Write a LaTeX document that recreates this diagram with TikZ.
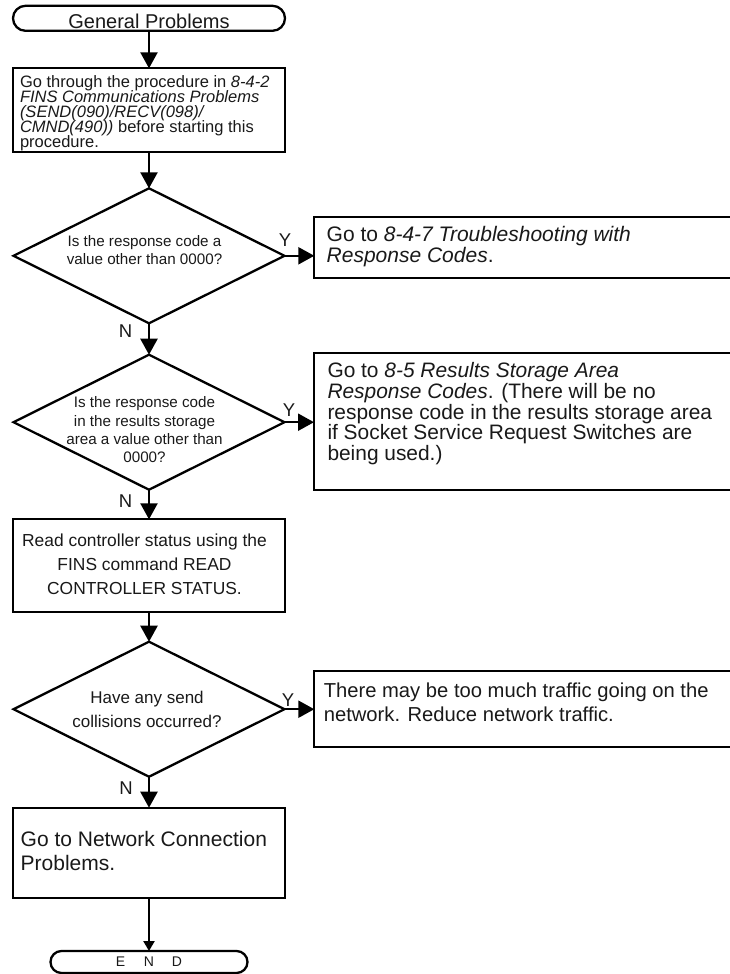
\documentclass[tikz,border=0pt]{standalone}
\usepackage{fontspec}
\setmainfont{Liberation Sans}
\usetikzlibrary{arrows.meta,shapes.geometric}
\begin{document}
\begin{tikzpicture}[x=1pt,y=1pt,
  box/.style={draw, line width=2.3pt, inner ysep=0pt, outer sep=0pt, anchor=north west, text=black!90},
  dia/.style={draw, diamond, line width=2.3pt, minimum width=271pt, minimum height=135pt, inner sep=0pt, outer sep=0pt, text=black!90},
  term/.style={draw, rectangle, line width=2.3pt, inner sep=0pt, outer sep=0pt, text=black!90},
  arr/.style={line width=2.3pt, -{Triangle[length=16pt,width=17pt]}},
  arrsmall/.style={line width=2.3pt, -{Triangle[length=10pt,width=11pt]}},
  yn/.style={inner sep=0pt, text=black!90, font=\fontsize{18.5}{20}\selectfont}
]
\useasboundingbox (0,0) rectangle (730,-974);

% terminals
\node[term, minimum width=272pt, minimum height=25pt, rounded corners=12.5pt] (start) at (149,-18.3)
  {\smash{\raisebox{-10.3pt}{\fontsize{20}{22}\selectfont General Problems}}};
\node[term, minimum width=197pt, minimum height=22pt, rounded corners=11pt] (end) at (149,-962)
  {\smash{\raisebox{-4.8pt}{\fontsize{14}{16}\selectfont E\hspace{18.5pt}N\hspace{18pt}D}}};

% left boxes
\node[box, inner xsep=7pt] (b1) at (13,-68.3)
  {\parbox[c][83.4pt][t]{258pt}{\fontsize{16.5}{14.8}\selectfont\lineskiplimit=-50pt\raggedright
   \rule{0pt}{19.5pt}Go through the procedure in \textit{8-4-2}\\
   \textit{FINS Communications Problems}\\
   \textit{(SEND(090)/RECV(098)/}\\
   \textit{CMND(490))} before starting this\\
   procedure.}};

\node[box, inner xsep=7pt] (b3) at (13,-519.3)
  {\parbox[c][92.4pt][t]{249pt}{\fontsize{17.4}{23.7}\selectfont\lineskiplimit=-50pt\centering
   \rule{0pt}{27.4pt}Read controller status using the\\
   FINS command READ\\
   CONTROLLER STATUS.}\hspace*{9pt}};

\node[box, inner xsep=7.7pt] (b4) at (13,-807.7)
  {\parbox[c][90.6pt][t]{256.6pt}{\fontsize{21}{24.7}\selectfont\lineskiplimit=-50pt\raggedright
   \rule{0pt}{38.3pt}Go to Network Connection\\
   Problems.}};

% right boxes
\node[box, inner xsep=12.4pt] (rb1) at (314.3,-217.3)
  {\parbox[c][61pt][t]{415.2pt}{\fontsize{21}{21}\selectfont\lineskiplimit=-50pt\raggedright
   \rule{0pt}{24.4pt}Go to \textit{8-4-7 Troubleshooting with}\\
   \textit{Response Codes}.}};

\node[box, inner xsep=13.5pt] (rb2) at (314,-353.3)
  {\parbox[c][136.7pt][t]{413pt}{\fontsize{20.9}{20.75}\selectfont\lineskiplimit=-50pt\raggedright
   \rule{0pt}{24.4pt}Go to \textit{8-5 Results Storage Area}\\
   \textit{Response Codes}. (There will be no\\
   response code in the results storage area\\
   if Socket Service Request Switches are\\
   being used.)}};

\node[box, inner xsep=9.5pt] (rb3) at (314.3,-671)
  {\parbox[c][76.3pt][t]{421pt}{\fontsize{20.2}{24.3}\selectfont\lineskiplimit=-50pt\raggedright
   \rule{0pt}{26.3pt}There may be too much traffic going on the\\
   network. Reduce network traffic.}};

% decisions
\node[dia] (d1) at (149,-255.8)
  {\smash{\makebox[0pt]{\hspace*{-9pt}\fontsize{15.2}{18}\selectfont\begin{tabular}[c]{@{}c@{}}Is the response code a\\value other than 0000?\end{tabular}}}};
\node[dia] (d2) at (149,-422.2)
  {\smash{\makebox[0pt]{\hspace*{-9pt}\raisebox{-13pt}{\fontsize{15.2}{18.3}\selectfont\begin{tabular}[c]{@{}c@{}}Is the response code\\in the results storage\\area a value other than\\0000?\end{tabular}}}}};
\node[dia] (d3) at (149,-709.2)
  {\smash{\makebox[0pt]{\hspace*{-4pt}\raisebox{-5.5pt}{\fontsize{17}{24}\selectfont\begin{tabular}[c]{@{}c@{}}Have any send\\collisions occurred?\end{tabular}}}}};

% labels
\node[yn] (y1) at (285,-240) {Y};
\node[yn] (y2) at (289,-410) {Y};
\node[yn] (y3) at (288,-700) {Y};
\node[yn] (n1) at (125.5,-331.5) {N};
\node[yn] (n2) at (125.5,-501.5) {N};
\node[yn] (n3) at (126,-788.3) {N};

% connectors
\draw[arr] (start.south) -- (b1.north);
\draw[arr] (b1.south) -- (d1.north);
\draw[arr] (d1.south) -- (d2.north);
\draw[arr] (d2.south) -- (b3.north);
\draw[arr] (b3.south) -- (d3.north);
\draw[arr] (d3.south) -- (b4.north);
\draw[arrsmall] (b4.south) -- (end.north);
\draw[arr] (d1.east) -- (d1.east -| rb1.west);
\draw[arr] (d2.east) -- (d2.east -| rb2.west);
\draw[arr] (d3.east) -- (d3.east -| rb3.west);
\end{tikzpicture}
\end{document}
